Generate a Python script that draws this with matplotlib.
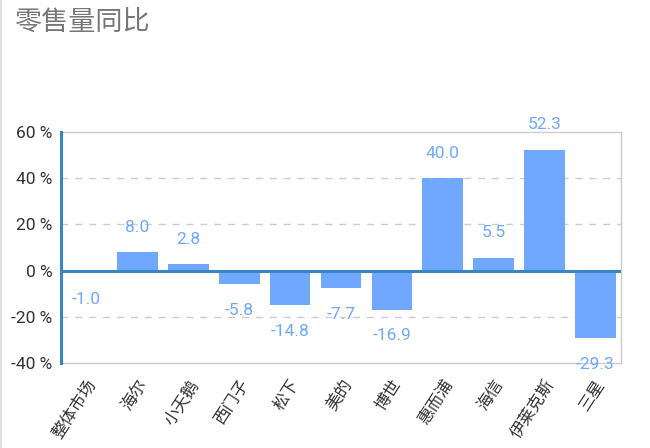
import matplotlib
matplotlib.use("Agg")
import matplotlib.pyplot as plt
from matplotlib.lines import Line2D

plt.rcParams['font.family'] = ['Roboto', 'Noto Sans CJK SC', 'DejaVu Sans']

categories = ['整体市场', '海尔', '小天鹅', '西门子', '松下', '美的', '博世', '惠而浦', '海信', '伊莱克斯', '三星']
values = [-1.0, 8.0, 2.8, -5.8, -14.8, -7.7, -16.9, 40.0, 5.5, 52.3, -29.3]
yticks = [-40, -20, 0, 20, 40, 60]

bar_color = '#70a8ff'
axis_color = '#3a86c0'

fig = plt.figure(figsize=(6.5, 4.48), dpi=100)
ax = fig.add_axes([0.0938, 0.190, 0.8615, 0.515])

x = list(range(len(categories)))
ax.bar(x, values, width=0.8, color=bar_color, zorder=2)

for xi, v in zip(x, values):
    off = 18 if v >= 0 else -19
    ax.annotate(f'{v:.1f}', (xi, v), xytext=(0, off), textcoords='offset points',
                ha='center', va='center', color=bar_color, fontsize=12.5)

ax.set_xlim(-0.5, len(categories) - 0.5)
ax.set_ylim(-40, 60)
ax.set_yticks(yticks)
ax.set_yticklabels([f'{t} %' for t in yticks], fontsize=12.5, color='#333333')
ax.set_xticks(x)
ax.set_xticklabels(categories, rotation=57, ha='right', rotation_mode='anchor',
                   fontsize=12, color='#333333')
ax.tick_params(axis='y', length=0, pad=6)
ax.tick_params(axis='x', length=0, pad=10)

for t in [20, 40, -20]:
    ax.axhline(t, color='#cccccc', lw=1, ls=(0, (5, 5)), zorder=1)
ax.axhline(0, color=axis_color, lw=2.2, zorder=3)

for s in ['top', 'right', 'bottom']:
    ax.spines[s].set_color('#cccccc')
    ax.spines[s].set_linewidth(1)
ax.spines['left'].set_color(axis_color)
ax.spines['left'].set_linewidth(2.2)
ax.spines['left'].set_zorder(4)

fig.text(0.022, 0.951, '零售量同比', fontsize=19.5, color='#777777', fontweight='medium',
         ha='left', va='center')
fig.add_artist(Line2D([0.002, 0.002], [0, 1], transform=fig.transFigure, color='#e0e0e0', lw=1.5))

fig.savefig('out.png', dpi=100)
